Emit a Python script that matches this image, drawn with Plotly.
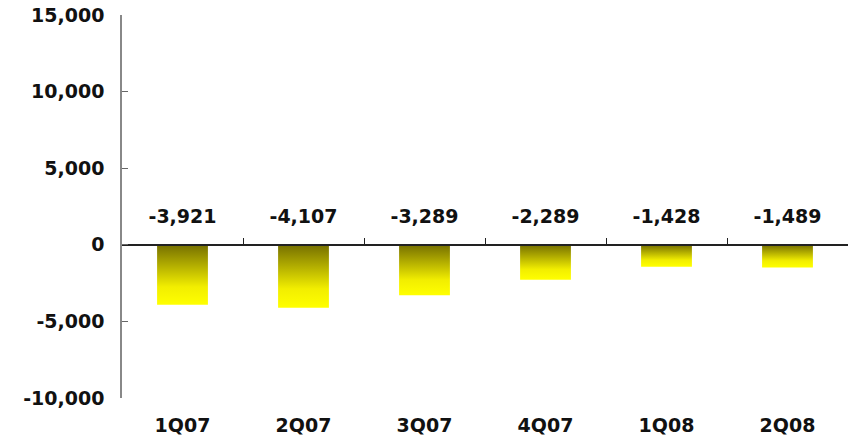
import plotly.graph_objects as go

quarters = ["1Q07", "2Q07", "3Q07", "4Q07", "1Q08", "2Q08"]
values = [-3921, -4107, -3289, -2289, -1428, -1489]
y_ticks = [-10000, -5000, 0, 5000, 10000, 15000]

FONT = "DejaVu Sans"
HALF_W = 0.21
LABEL_Y = 1750
GRADIENT = [[0, "#ffff00"], [0.3, "#f2ee00"], [1, "#767000"]]

fig = go.Figure()

for i, v in enumerate(values):
    fig.add_trace(go.Scatter(
        x=[i - HALF_W, i + HALF_W, i + HALF_W, i - HALF_W, i - HALF_W],
        y=[0, 0, v, v, 0],
        mode="lines",
        fill="toself",
        fillgradient=dict(type="vertical", colorscale=GRADIENT),
        line=dict(width=0),
        hoverinfo="skip",
        showlegend=False,
    ))

fig.add_trace(go.Scatter(
    x=list(range(len(quarters))),
    y=[LABEL_Y] * len(quarters),
    mode="text",
    text=[f"{v:,}" for v in values],
    textfont=dict(family=FONT, size=19, color="#111111", weight="bold"),
    hoverinfo="skip",
    showlegend=False,
))

# zero line with category dividers
fig.add_trace(go.Scatter(
    x=[-0.5, len(quarters) - 0.5], y=[0, 0],
    xaxis="x2", mode="lines", line=dict(width=0),
    hoverinfo="skip", showlegend=False,
))

fig.update_layout(
    width=852, height=442,
    paper_bgcolor="white", plot_bgcolor="white",
    margin=dict(l=122, r=4, t=13, b=44),
    font=dict(family=FONT, size=19, color="#111111", weight="bold"),
    xaxis=dict(
        range=[-0.5, len(quarters) - 0.5],
        tickvals=list(range(len(quarters))),
        ticktext=quarters,
        showline=False, showgrid=False, zeroline=False, ticks="",
        ticklabelstandoff=14,
        tickfont=dict(family=FONT, size=19, color="#111111", weight="bold"),
    ),
    xaxis2=dict(
        overlaying="x", anchor="free", position=0.4,
        range=[-0.5, len(quarters) - 0.5],
        tickvals=[k + 0.5 for k in range(-1, len(quarters))],
        showticklabels=False, showgrid=False, zeroline=False,
        showline=True, linecolor="#222222", linewidth=1.5,
        ticks="inside", ticklen=6, tickcolor="#222222", tickwidth=1,
    ),
    yaxis=dict(
        range=[-10000, 15000],
        tickvals=y_ticks,
        ticktext=[f"{t:,}" for t in y_ticks],
        showgrid=False, zeroline=False,
        showline=True, linecolor="#888888", linewidth=1.5,
        ticks="inside", ticklen=6, tickcolor="#666666", tickwidth=1,
        ticklabelstandoff=12, ticklabeloverflow="allow",
        tickfont=dict(family=FONT, size=19, color="#111111", weight="bold"),
    ),
)

# drop the browser's default 8px body margin so the figure sits at the page corner
fig.write_html(
    "out.html",
    config={"displayModeBar": False},
    post_script="document.body.style.margin='0';",
)
